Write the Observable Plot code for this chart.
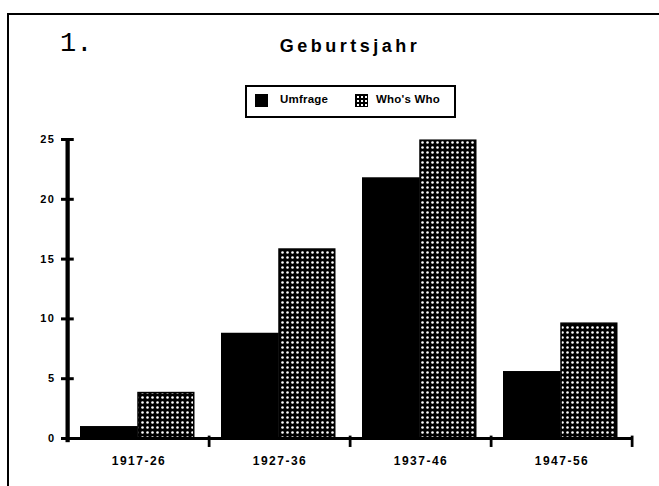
<!DOCTYPE html>
<html>
<head>
<meta charset="utf-8">
<script src="https://cdn.jsdelivr.net/npm/d3@7"></script>
<script src="https://cdn.jsdelivr.net/npm/@observablehq/plot@0.6"></script>
<style>
  html, body { margin: 0; padding: 0; background: #fff; }
  #wrap { position: relative; width: 659px; height: 486px; overflow: hidden; font-family: "Liberation Sans", Arial, sans-serif; }
  #wrap svg { position: absolute; left: 0; top: 0; }
  .frame { position: absolute; left: 7px; top: 13px; width: 700px; height: 520px; border: 2px solid #000; box-sizing: border-box; }
  .num { position: absolute; left: 60px; top: 29px; font-family: "Liberation Mono", "DejaVu Sans Mono", monospace; font-size: 27px; color: #000; }
  .title { position: absolute; left: 0; width: 700px; top: 36px; text-align: center; font-weight: 900; font-size: 18px; letter-spacing: 3.5px; color: #000; }
  .legend { position: absolute; left: 245px; top: 85px; width: 211px; height: 33px; border: 2px solid #000; box-sizing: border-box; }
  .sw { position: absolute; top: 7px; width: 13px; height: 13px; background: #000; }
  .sw.dots { background: radial-gradient(circle, #fff 0.8px, transparent 1.2px) 0 0 / 4px 4px, #000; border: 1px solid #000; box-sizing: border-box; }
  .lt { position: absolute; top: 6px; font-size: 11.5px; font-weight: bold; color: #000; letter-spacing: 0.2px; }
</style>
</head>
<body>
<div id="wrap"></div>
<script>
const categories = ["1917-26", "1927-36", "1937-46", "1947-56"];
const seriesNames = ["Umfrage", "Who's Who"];
const umfrage = [1, 8.8, 21.8, 5.6];
const whosWho = [3.8, 15.8, 24.9, 9.6];
const yTicks = [0, 5, 10, 15, 20, 25];
const yTickLabels = ["0", "5", "10", "15", "20", "25"];
const titleText = "Geburtsjahr";
const chartNumber = "1.";

const W = 659, H = 486;
const mL = 67, mR = 27, mT = 139, mB = 48;
const bw = (W - mL - mR) / categories.length;

const rowsU = categories.map((c, i) => ({cat: c, value: umfrage[i]}));
const rowsW = categories.map((c, i) => ({cat: c, value: whosWho[i]}));

const svg = Plot.plot({
  width: W, height: H,
  marginLeft: mL, marginRight: mR, marginTop: mT, marginBottom: mB,
  style: {fontFamily: "'Liberation Sans', Arial, sans-serif", background: "transparent", overflow: "visible"},
  x: {domain: categories, padding: 0, tickSize: 0, tickPadding: 18, label: null},
  y: {domain: [0, 25], ticks: yTicks, tickFormat: (d) => yTickLabels[yTicks.indexOf(d)], tickSize: 0, tickPadding: 12, label: null},
  marks: [
    Plot.barY(rowsU, {x: "cat", y: "value", fill: "#000", insetLeft: 12, insetRight: bw - 70}),
    Plot.barY(rowsW, {x: "cat", y: "value", fill: "url(#dots)", stroke: "#000", strokeWidth: 1.5, insetLeft: 70, insetRight: bw - 126}),
    // x axis line
    Plot.ruleY([0], {strokeWidth: 3, stroke: "#000"}),
    // y axis line
    Plot.barY([25], {x: () => categories[0], y1: -0.35, y2: (d) => d, fill: "#000", insetLeft: -2.5, insetRight: bw - 2}),
    // y ticks
    Plot.tickY(yTicks, {x: () => categories[0], y: (d) => d, stroke: "#000", strokeWidth: 3, insetLeft: -7, insetRight: bw - 6}),
    // category boundary ticks
    Plot.barY(categories, {x: (d) => d, y1: -0.75, y2: 0.2, fill: "#000", insetLeft: bw - 1.5, insetRight: -1.5})
  ]
});

// dotted pattern
const ns = "http://www.w3.org/2000/svg";
const defs = document.createElementNS(ns, "defs");
defs.innerHTML = '<pattern id="dots" patternUnits="userSpaceOnUse" width="5" height="5">' +
  '<rect width="5" height="5" fill="#000"/><circle cx="2.5" cy="2.5" r="1.3" fill="#fff"/></pattern>';
svg.insertBefore(defs, svg.firstChild);

// axis label styling
svg.querySelectorAll('g[aria-label="x-axis"] text, g[aria-label="x-axis tick label"] text').forEach(t => {
  Object.assign(t.style, {fontWeight: "bold", fontSize: "12px", letterSpacing: "1.5px", fill: "#000"});
});
svg.querySelectorAll('g[aria-label="y-axis"] text, g[aria-label="y-axis tick label"] text').forEach(t => {
  Object.assign(t.style, {fontWeight: "bold", fontSize: "11px", letterSpacing: "1.5px", fill: "#000"});
});

const wrap = document.getElementById("wrap");
wrap.appendChild(svg);

const frame = document.createElement("div"); frame.className = "frame"; wrap.appendChild(frame);
const num = document.createElement("div"); num.className = "num"; num.textContent = chartNumber; wrap.appendChild(num);
const title = document.createElement("div"); title.className = "title"; title.textContent = titleText; wrap.appendChild(title);

const legend = document.createElement("div"); legend.className = "legend";
legend.innerHTML =
  '<div class="sw" style="left:8px"></div><div class="lt" style="left:33px">' + seriesNames[0] + '</div>' +
  '<div class="sw dots" style="left:108px"></div><div class="lt" style="left:129px">' + seriesNames[1] + '</div>';
wrap.appendChild(legend);
</script>
</body>
</html>
